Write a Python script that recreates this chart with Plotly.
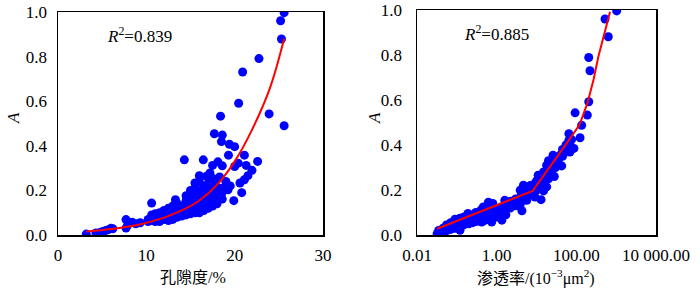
import plotly.graph_objects as go

# ---------------- Data: porosity panel ----------------
por_x = [25.6, 25.2, 25.3, 22.75, 20.9, 20.45, 18.4, 23.9, 25.6, 17.7, 18.6, 18.5, 19.4, 20.0,
         19.3, 21.1, 14.3, 16.45, 22.6, 18.1, 17.5, 18.6, 20.0, 20.4, 21.3, 21.96, 21.5, 21.1,
         20.6, 17.2, 16.8, 16.0, 15.5, 17.5, 19.0, 19.25, 20.8, 19.9, 18.6, 14.5, 10.6, 13.3,
         7.7, 8.4, 7.7, 3.2, 4.3, 5.1, 5.7, 6.2, 4.8, 5.4, 6.0, 7.9, 8.8, 9.3,
         10.2, 10.2, 10.6, 10.6, 10.6, 11.0, 11.0, 11.0, 11.5, 11.5, 11.5, 11.5,
         12.0, 12.0, 12.0, 12.0, 12.5, 12.5, 12.5, 12.5, 13.0, 13.0, 13.0, 13.0, 13.0,
         13.5, 13.5, 13.5, 13.5, 13.5, 14.0, 14.0, 14.0, 14.0, 14.5, 14.5, 14.5, 14.5, 14.5,
         15.0, 15.0, 15.0, 15.0, 15.0, 15.5, 15.5, 15.5, 15.5, 15.5, 16.0, 16.0, 16.0, 16.0,
         16.0, 16.0, 16.5, 16.5, 16.5, 16.5, 16.5, 17.0, 17.0, 17.0, 17.0, 17.0,
         17.5, 17.5, 17.5, 17.5, 18.0, 18.0, 18.0, 18.0, 18.5, 18.5,
         15.8, 16.3, 17.3, 17.8, 18.3, 18.8, 19.5, 16.9, 15.2, 14.8]
por_a = [0.997, 0.961, 0.879, 0.791, 0.731, 0.591, 0.533, 0.543, 0.49, 0.454, 0.448, 0.419, 0.407, 0.396,
         0.358, 0.358, 0.337, 0.337, 0.33, 0.328, 0.312, 0.31, 0.307, 0.322, 0.312, 0.29, 0.266, 0.248,
         0.233, 0.278, 0.263, 0.266, 0.233, 0.255, 0.24, 0.203, 0.19, 0.154, 0.161, 0.176, 0.143, 0.158,
         0.069, 0.057, 0.031, 0.004, 0.009, 0.016, 0.024, 0.028, 0.012, 0.02, 0.03, 0.045, 0.05, 0.055,
         0.07, 0.06, 0.08, 0.065, 0.09, 0.06, 0.075, 0.095, 0.07, 0.09, 0.10, 0.06,
         0.07, 0.085, 0.10, 0.11, 0.065, 0.08, 0.095, 0.12, 0.075, 0.09, 0.105, 0.13, 0.07,
         0.08, 0.095, 0.11, 0.12, 0.14, 0.085, 0.10, 0.115, 0.13, 0.09, 0.105, 0.12, 0.14, 0.155,
         0.095, 0.11, 0.125, 0.15, 0.20, 0.10, 0.12, 0.14, 0.17, 0.21, 0.10, 0.115, 0.13, 0.15,
         0.18, 0.24, 0.11, 0.13, 0.15, 0.20, 0.22, 0.12, 0.14, 0.16, 0.19, 0.23,
         0.13, 0.15, 0.17, 0.21, 0.14, 0.16, 0.19, 0.20, 0.18, 0.21,
         0.20, 0.19, 0.25, 0.23, 0.26, 0.20, 0.22, 0.21, 0.18, 0.16]
por_fit_x = [3.2, 6, 9, 12, 14, 16, 18, 20, 22, 24, 25.6]
por_fit_a = [0.016, 0.027, 0.045, 0.078, 0.11, 0.155, 0.225, 0.33, 0.475, 0.66, 0.88]

# ---------------- Data: permeability panel ----------------
perm_x = [1030, 525, 634, 205, 220, 205, 189, 93, 136, 124, 76, 69, 87, 69, 26, 39, 18, 43,
          11, 18, 28, 9.2, 18, 4.7, 3.9, 15, 9.2, 13, 5.7, 3.9, 2.6, 4.3, 1.6, 1.35, 1.35,
          0.75, 0.62, 0.46, 0.42, 0.23, 0.19, 0.13, 0.10, 0.12, 0.068, 0.09, 0.056, 0.042,
          0.032, 0.043,
          0.035, 0.035, 0.045, 0.045, 0.055, 0.055, 0.055, 0.07, 0.07, 0.07,
          0.09, 0.09, 0.09, 0.09, 0.12, 0.12, 0.12, 0.12, 0.15, 0.15, 0.15,
          0.2, 0.2, 0.2, 0.2, 0.25, 0.25, 0.25, 0.3, 0.3, 0.3, 0.3, 0.4, 0.4, 0.4, 0.4,
          0.5, 0.5, 0.5, 0.6, 0.6, 0.6, 0.6, 0.8, 0.8, 0.8, 0.8, 1.0, 1.0, 1.0,
          1.3, 1.3, 1.3, 1.7, 1.7, 1.7, 2.2, 2.2, 2.2, 3, 3, 3, 4, 4, 5, 5, 6, 6, 7, 7,
          10, 10, 12, 15, 15, 15, 20, 20, 20, 25, 25, 30, 30, 35, 45, 45, 55, 55, 65, 65]
perm_a = [0.996, 0.96, 0.881, 0.789, 0.73, 0.592, 0.533, 0.543, 0.488, 0.432, 0.424, 0.402, 0.385,
          0.369, 0.355, 0.355, 0.31, 0.307, 0.266, 0.258, 0.26, 0.229, 0.214, 0.221, 0.199, 0.196,
          0.169, 0.157, 0.154, 0.136, 0.142, 0.108, 0.154, 0.117, 0.066, 0.058, 0.146, 0.125,
          0.058, 0.058, 0.096, 0.051, 0.066, 0.021, 0.028, 0.066, 0.021, 0.006, 0.006, 0.013,
          0.01, 0.02, 0.015, 0.03, 0.02, 0.035, 0.045, 0.025, 0.04, 0.055,
          0.03, 0.045, 0.06, 0.07, 0.035, 0.05, 0.065, 0.075, 0.045, 0.06, 0.08,
          0.05, 0.065, 0.085, 0.09, 0.055, 0.07, 0.08, 0.06, 0.075, 0.09, 0.10, 0.06, 0.08, 0.095, 0.11,
          0.065, 0.085, 0.10, 0.07, 0.09, 0.11, 0.13, 0.075, 0.095, 0.12, 0.14, 0.08, 0.10, 0.115,
          0.085, 0.105, 0.125, 0.09, 0.12, 0.14, 0.12, 0.135, 0.15, 0.13, 0.145, 0.16, 0.15, 0.17,
          0.16, 0.18, 0.17, 0.20, 0.18, 0.22,
          0.20, 0.24, 0.22, 0.23, 0.25, 0.28, 0.25, 0.28, 0.33, 0.29, 0.32, 0.30, 0.34, 0.33,
          0.35, 0.38, 0.37, 0.40, 0.42, 0.45]
perm_fit_x = [0.032, 8.0, 57, 90, 120, 189, 270, 357, 500, 702]
perm_fit_a = [0.028, 0.196, 0.407, 0.455, 0.49, 0.585, 0.69, 0.792, 0.89, 0.992]

y_ticks = [0.0, 0.2, 0.4, 0.6, 0.8, 1.0]
perm_tickvals = [0.01, 1, 100, 10000]
perm_ticktext = ["0.01", "1.00", "100.00", "10 000.00"]

FONT = "'Liberation Serif', 'Times New Roman', 'Noto Sans CJK SC', serif"
CJK = "'Liberation Serif', 'Noto Sans CJK SC', serif"
BLUE = "#0000FF"
RED = "#FF0000"

fig = go.Figure()
fig.add_trace(go.Scatter(x=por_x, y=por_a, mode="markers", xaxis="x", yaxis="y",
                         marker=dict(color=BLUE, size=9, line=dict(width=0)), showlegend=False))
fig.add_trace(go.Scatter(x=por_fit_x, y=por_fit_a, mode="lines", xaxis="x", yaxis="y",
                         line=dict(color=RED, width=2, shape="spline"), showlegend=False))
fig.add_trace(go.Scatter(x=perm_x, y=perm_a, mode="markers", xaxis="x2", yaxis="y2",
                         marker=dict(color=BLUE, size=9, line=dict(width=0)), showlegend=False))
fig.add_trace(go.Scatter(x=perm_fit_x, y=perm_fit_a, mode="lines", xaxis="x2", yaxis="y2",
                         line=dict(color=RED, width=2), showlegend=False))

W, H = 700, 291
def px(v):
    return v / W
def py(v):
    return 1 - v / H

axis_common = dict(showgrid=False, zeroline=False, showline=True, linecolor="black",
                   linewidth=1.5, mirror=True, ticks="", automargin=False,
                   ticklabeloverflow="allow",
                   tickfont=dict(family=FONT, size=17, color="black"))

fig.update_layout(
    template="none",
    width=W, height=H,
    margin=dict(l=0, r=0, t=0, b=0, pad=0, autoexpand=False),
    paper_bgcolor="white", plot_bgcolor="white",
    font=dict(family=FONT, size=17, color="black"),
    hovermode=False,
    xaxis=dict(domain=[px(58), px(323)], range=[0, 30], tickvals=[0, 10, 20, 30],
               anchor="y", ticklabelstandoff=4, **axis_common),
    yaxis=dict(domain=[py(235), py(12)], range=[0, 1], tickvals=y_ticks, tickformat=".1f",
               anchor="x", ticklabelstandoff=6, **axis_common),
    xaxis2=dict(domain=[px(417), px(656)], type="log", range=[-2, 4],
                tickvals=perm_tickvals, ticktext=perm_ticktext,
                anchor="y2", ticklabelstandoff=4, **axis_common),
    yaxis2=dict(domain=[py(235), py(10)], range=[0, 1], tickvals=y_ticks, tickformat=".1f",
                anchor="x2", ticklabelstandoff=10, **axis_common),
)

ann = [
    dict(text="<i>R</i><sup>2</sup>=0.839", x=px(105), y=py(35), xanchor="left", yanchor="middle",
         font=dict(family=FONT, size=17, color="black")),
    dict(text="<i>R</i><sup>2</sup>=0.885", x=px(462), y=py(33), xanchor="left", yanchor="middle",
         font=dict(family=FONT, size=17, color="black")),
    dict(text="孔隙度/%", x=px(193), y=py(277), xanchor="center", yanchor="middle",
         font=dict(family=CJK, size=16, color="black")),
    dict(text="渗透率/(10<sup>−3</sup>μm<sup>2</sup>)", x=px(536), y=py(277), xanchor="center",
         yanchor="middle", font=dict(family=CJK, size=16, color="black")),
    dict(text="<i>A</i>", x=px(13), y=py(118), xanchor="center", yanchor="middle", textangle=-90,
         font=dict(family=FONT, size=17, color="black")),
    dict(text="<i>A</i>", x=px(374), y=py(118), xanchor="center", yanchor="middle", textangle=-90,
         font=dict(family=FONT, size=17, color="black")),
]
for a in ann:
    a.update(xref="paper", yref="paper", showarrow=False)
fig.update_layout(annotations=ann)

# Remove the browser's default 8 px body margin so the 700x291 figure fills the window.
fig.write_html("out.html",
               config={"displayModeBar": False, "staticPlot": True},
               post_script="document.body.style.margin='0';document.body.style.overflow='hidden';")
